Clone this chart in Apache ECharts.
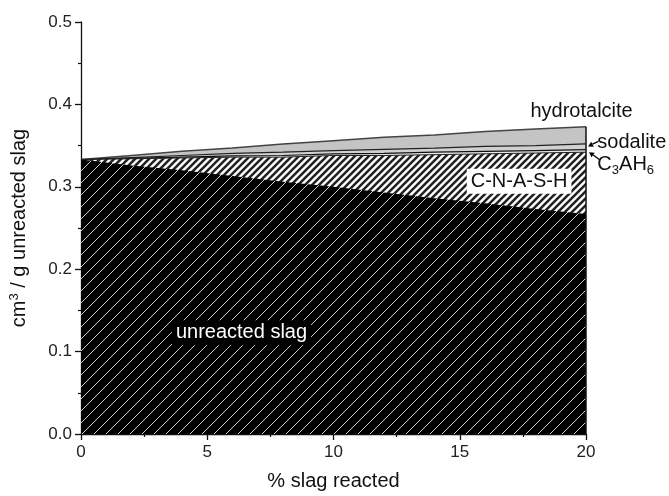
<!DOCTYPE html>
<html>
<head>
<meta charset="utf-8">
<script src="https://cdn.jsdelivr.net/npm/echarts@6/dist/echarts.min.js"></script>
<style>
html,body{margin:0;padding:0;background:#fff;}
#c{width:669px;height:496px;}
</style>
</head>
<body>
<div id="c"></div>
<script>
// ---- data ----
const xVals = [0, 2, 4, 6, 8, 10, 12, 14, 16, 18, 20];
const unreacted = [0.333, 0.326, 0.320, 0.313, 0.306, 0.300, 0.293, 0.286, 0.280, 0.273, 0.267];
const cnash = [0.000, 0.008, 0.015, 0.023, 0.030, 0.038, 0.045, 0.053, 0.060, 0.068, 0.075];
const c3ah6 = [0.000, 0.0005, 0.001, 0.0015, 0.002, 0.002, 0.0025, 0.003, 0.003, 0.003, 0.003];
const sodalite = [0.000, 0.001, 0.002, 0.003, 0.004, 0.004, 0.005, 0.005, 0.006, 0.006, 0.007];
const hydrotalcite = [0.000, 0.0025, 0.005, 0.0065, 0.010, 0.012, 0.0145, 0.016, 0.018, 0.020, 0.021];
const xTicks = [0, 5, 10, 15, 20];
const yTicks = [0.0, 0.1, 0.2, 0.3, 0.4, 0.5];

const FONT = '"Liberation Sans", Arial, sans-serif';

// cumulative tops (stacking done here, each layer filled down to 0 and drawn bottom-most last)
const layers = [unreacted, cnash, c3ah6, sodalite, hydrotalcite];
const cum = [];
layers.forEach((arr, k) => {
  cum.push(arr.map((v, i) => v + (k ? cum[k - 1][i] : 0)));
});
function pair(arr) { return xVals.map((x, i) => [x, +arr[i].toFixed(5)]); }

function hatch(size, bg, fg, width) {
  const c = document.createElement('canvas');
  c.width = size; c.height = size;
  const g = c.getContext('2d');
  g.fillStyle = bg; g.fillRect(0, 0, size, size);
  g.strokeStyle = fg; g.lineWidth = width; g.lineCap = 'square';
  g.beginPath();
  g.moveTo(-size, size * 2); g.lineTo(size * 2, -size);
  g.moveTo(-size, size); g.lineTo(size, -size);
  g.moveTo(0, size * 2); g.lineTo(size * 2, 0);
  g.stroke();
  return c;
}
const slagPattern = { image: hatch(12, '#000', '#d0d0d0', 1), repeat: 'repeat' };
const cnashPattern = { image: hatch(7, '#fff', '#222', 2.6), repeat: 'repeat' };

const lastTop = cum[4][cum[4].length - 1];

const chart = echarts.init(document.getElementById('c'));

function areaSeries(name, arr, fill, line, z) {
  return {
    name: name, type: 'line', data: pair(arr),
    symbol: 'none', smooth: false,
    lineStyle: line,
    areaStyle: { color: fill, opacity: 1, origin: 'start' },
    silent: true, z: z
  };
}

chart.setOption({
  animation: false,
  backgroundColor: '#fff',
  grid: { left: 80, right: 83, top: 22, bottom: 62 },
  xAxis: {
    type: 'value', min: 0, max: 20, interval: 5,
    name: '% slag reacted', nameLocation: 'middle', nameGap: 37,
    nameTextStyle: { fontFamily: FONT, fontSize: 20, color: '#111' },
    axisLine: { lineStyle: { color: '#111', width: 1.3 } },
    axisTick: { inside: false, length: 6, lineStyle: { color: '#111', width: 1.3 } },
    minorTick: { show: true, splitNumber: 2, length: 3, lineStyle: { color: '#111', width: 1.2 } },
    axisLabel: { fontFamily: FONT, fontSize: 17, color: '#222', margin: 10,
      formatter: v => xTicks.includes(v) ? String(v) : '' },
    splitLine: { show: false }
  },
  yAxis: {
    type: 'value', min: 0, max: 0.5, interval: 0.1,
    name: 'cm{sup|3} / g unreacted slag', nameLocation: 'middle', nameGap: 50, nameRotate: 90,
    nameTextStyle: { fontFamily: FONT, fontSize: 20, color: '#111',
      rich: { sup: { fontFamily: FONT, fontSize: 13, verticalAlign: 'top', padding: [0, 0, 10, 0], color: '#111' } } },
    axisLine: { show: true, lineStyle: { color: '#111', width: 1.3 } },
    axisTick: { show: true, inside: false, length: 6, lineStyle: { color: '#111', width: 1.3 } },
    minorTick: { show: true, splitNumber: 2, length: 3, lineStyle: { color: '#111', width: 1.2 } },
    axisLabel: { fontFamily: FONT, fontSize: 17, color: '#222', margin: 9,
      formatter: v => { const t = yTicks.find(k => Math.abs(k - v) < 1e-9); return t === undefined ? '' : t.toFixed(1); } },
    splitLine: { show: false }
  },
  series: [
    areaSeries('hydrotalcite', cum[4], '#c4c4c4', { width: 1.5, color: '#444' }, 1),
    areaSeries('sodalite', cum[3], '#d0d0d0', { width: 1.2, color: '#222' }, 2),
    areaSeries('C3AH6', cum[2], '#e8e8e8', { width: 1.2, color: '#111' }, 3),
    areaSeries('C-N-A-S-H', cum[1], cnashPattern, { width: 1, color: '#222' }, 4),
    areaSeries('unreacted slag', cum[0], slagPattern, { width: 0, color: '#000' }, 5),
    {
      name: 'edge', type: 'line', data: [[20, 0], [20, lastTop]],
      symbol: 'none', lineStyle: { color: '#111', width: 1.5 }, silent: true, z: 6
    }
  ]
});

// annotations placed via the axes
function px(x, y) { return chart.convertToPixel({ gridIndex: 0 }, [x, y]); }
const pUnr = px(3.6, 0.123);
const pCn = px(17.35, 0.3066);
const pHy = px(17.8, 0.392);
const pSo = px(20.45, 0.354);
const pC3 = px(20.45, 0.327);
const pEdgeSo = px(20.08, 0.349);
const pEdgeC3 = px(20.12, 0.342);

function arrow(from, to) {
  const dx = to[0] - from[0], dy = to[1] - from[1];
  const L = Math.hypot(dx, dy), ux = dx / L, uy = dy / L;
  const hl = 5, hw = 2.8;
  const bx = to[0] - ux * hl, by = to[1] - uy * hl;
  return [
    { type: 'line', shape: { x1: from[0], y1: from[1], x2: bx, y2: by }, style: { stroke: '#000', lineWidth: 1.3 }, z: 10 },
    { type: 'polygon', shape: { points: [to, [bx - uy * hw, by + ux * hw], [bx + uy * hw, by - ux * hw]] }, style: { fill: '#000' }, z: 10 }
  ];
}

chart.setOption({
  graphic: [
    { type: 'text', x: pUnr[0], y: pUnr[1], z: 10,
      style: { text: 'unreacted slag', fontFamily: FONT, fontSize: 20, fill: '#fff',
        backgroundColor: '#000', padding: [3, 4, 2, 4], align: 'left', verticalAlign: 'middle' } },
    { type: 'text', x: pCn[0], y: pCn[1], z: 10,
      style: { text: 'C-N-A-S-H', fontFamily: FONT, fontSize: 20, fill: '#111',
        backgroundColor: '#fff', padding: [3, 4, 2, 4], align: 'center', verticalAlign: 'middle' } },
    { type: 'text', x: pHy[0], y: pHy[1], z: 10,
      style: { text: 'hydrotalcite', fontFamily: FONT, fontSize: 20, fill: '#111', align: 'left', verticalAlign: 'middle' } },
    { type: 'text', x: pSo[0], y: pSo[1], z: 10,
      style: { text: 'sodalite', fontFamily: FONT, fontSize: 20, fill: '#111', align: 'left', verticalAlign: 'middle' } },
    { type: 'text', x: pC3[0], y: pC3[1], z: 10,
      style: { text: 'C{sub|3}AH{sub|6}', fontFamily: FONT, fontSize: 20, fill: '#111', align: 'left', verticalAlign: 'middle',
        rich: { sub: { fontFamily: FONT, fontSize: 13, fill: '#111', padding: [12, 0, 0, 0] } } } },
    ...arrow([pSo[0] + 1, pSo[1] - 1], pEdgeSo),
    ...arrow([pC3[0] + 2, pC3[1] - 5], pEdgeC3)
  ]
});
</script>
</body>
</html>
